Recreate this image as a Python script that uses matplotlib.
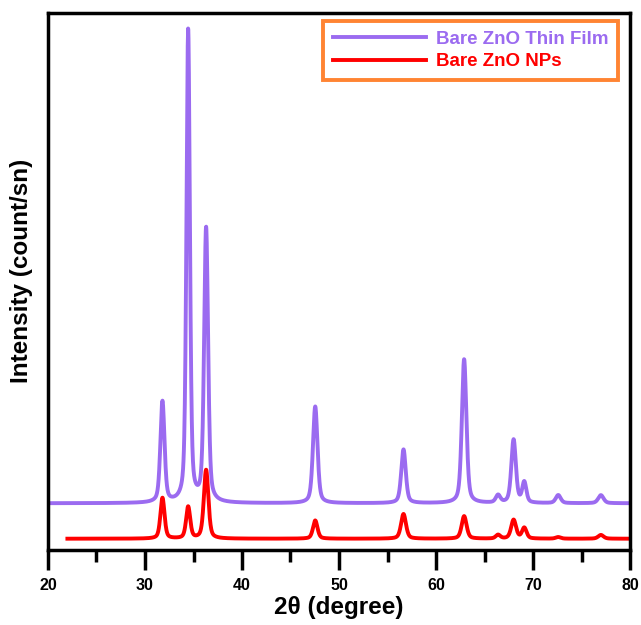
import numpy as np
import matplotlib
matplotlib.use("Agg")
import matplotlib.pyplot as plt
from matplotlib.ticker import MultipleLocator

# Peak data (2theta in degrees, heights in arbitrary units)
film_peaks = [31.8, 34.45, 36.3, 47.55, 56.65, 62.9, 66.4, 68.0, 69.1, 72.6, 77.0]
film_heights = [188, 880, 510, 180, 100, 268, 14, 118, 38, 15, 15]
film_widths = [0.50, 0.42, 0.48, 0.55, 0.55, 0.55, 0.55, 0.55, 0.50, 0.60, 0.65]
film_baseline = 87

np_peaks = [31.8, 34.45, 36.3, 47.55, 56.65, 62.9, 66.4, 68.0, 69.1, 72.6, 77.0]
np_heights = [76, 59, 128, 34, 46, 42, 7, 35, 20, 3, 7]
np_widths = [0.50, 0.50, 0.55, 0.55, 0.60, 0.60, 0.55, 0.60, 0.55, 0.60, 0.65]
np_baseline = 21

film_range = (20.0, 80.0)
np_range = (22.0, 80.0)


def profile(x, peaks, heights, widths, base):
    y = np.full_like(x, float(base))
    for c, h, w in zip(peaks, heights, widths):
        g = np.exp(-4 * np.log(2) * ((x - c) / w) ** 2)
        l = 1.0 / (1.0 + 4 * ((x - c) / w) ** 2)
        y += h * (0.55 * g + 0.45 * l)
    return y


x_film = np.linspace(*film_range, 3000)
x_np = np.linspace(*np_range, 3000)
y_film = profile(x_film, film_peaks, film_heights, film_widths, film_baseline)
y_np = profile(x_np, np_peaks, np_heights, np_widths, np_baseline)

plt.rcParams['font.family'] = ['Liberation Sans', 'DejaVu Sans']
fig = plt.figure(figsize=(6.41, 6.25), dpi=100)
ax = fig.add_axes([48 / 641, 1 - 550 / 625, (630 - 48) / 641, (550 - 13) / 625])

ax.plot(x_film, y_film, color='#9B6BF0', lw=2.8, label='Bare ZnO Thin Film')
ax.plot(x_np, y_np, color='#FF0000', lw=2.8, label='Bare ZnO NPs')

ax.set_xlim(20, 80)
ax.set_ylim(0, 1000)
ax.set_yticks([])
ax.xaxis.set_major_locator(MultipleLocator(10))
ax.xaxis.set_minor_locator(MultipleLocator(5))
ax.tick_params(axis='x', which='major', direction='out', length=14.5, width=2.5,
               labelsize=11.5, pad=6)
ax.tick_params(axis='x', which='minor', direction='out', length=8.5, width=2.5)
for lab in ax.get_xticklabels():
    lab.set_fontweight('bold')
for sp in ax.spines.values():
    sp.set_linewidth(2.5)

ax.set_xlabel('2θ (degree)', fontsize=17.5, fontweight='bold', labelpad=2)
ax.set_ylabel('Intensity (count/sn)', fontsize=17.5, fontweight='bold')
ax.yaxis.set_label_coords(-0.026, 0.52)

leg = ax.legend(loc='upper right', bbox_to_anchor=(0.985, 0.992),
                prop={'weight': 'bold', 'size': 13.5}, frameon=True, fancybox=False,
                handlelength=5.0, handletextpad=0.5, borderpad=0.5, labelspacing=0.3,
                borderaxespad=0.2)
leg.get_frame().set_edgecolor('#FF6600')
leg.get_frame().set_linewidth(2.8)
for txt, line in zip(leg.get_texts(), leg.get_lines()):
    txt.set_color(line.get_color())

fig.savefig('out.png', dpi=100)
